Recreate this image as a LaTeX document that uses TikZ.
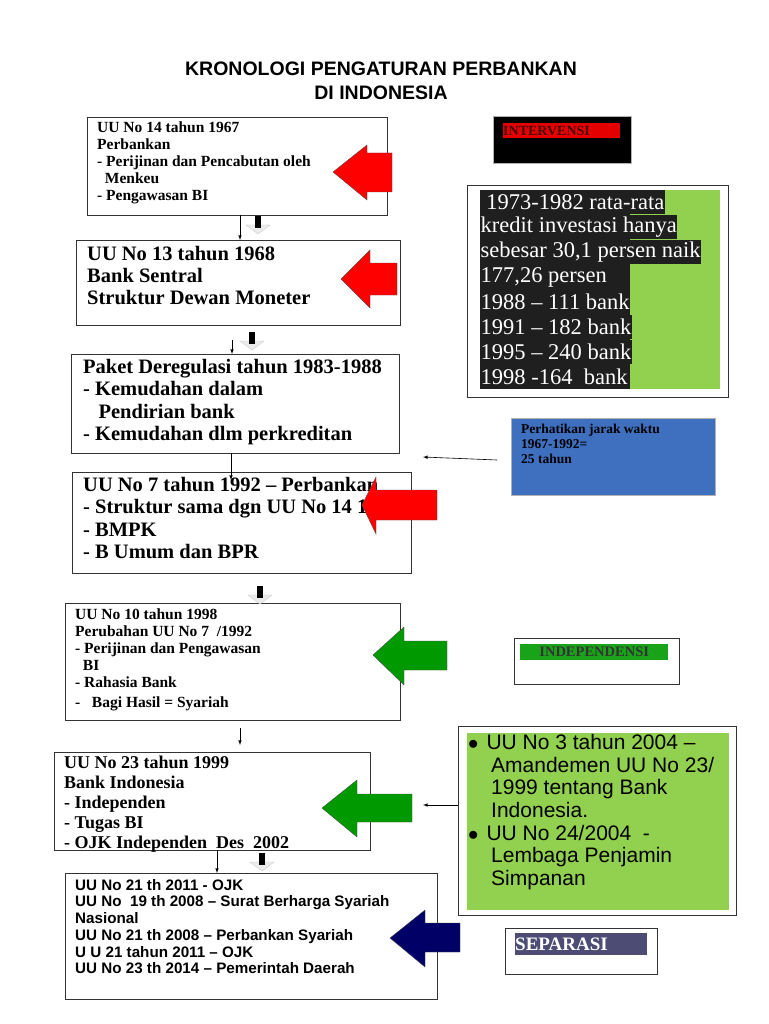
\documentclass[tikz,border=0pt]{standalone}
\usepackage{fontspec}
\setmainfont{Liberation Serif}
\newfontfamily\sansf[Ligatures=TeX]{Liberation Sans}
\definecolor{xgreen}{HTML}{92D050}
\definecolor{xblue}{HTML}{3F6FBF}
\begin{document}
\begin{tikzpicture}[x=1pt,y=-1pt,
  box/.style={draw=black!80,line width=0.8pt,anchor=north west,inner sep=0},
  txt/.style={anchor=north west,align=left,inner sep=0,font=\bfseries},
  thin/.style={-latex,line width=0.6pt},
  stat/.style={anchor=north west,fill=black!88,text=white,inner sep=0.5pt,minimum height=24pt,font=\fontsize{22.5}{24}\selectfont}]
\useasboundingbox (0,0) rectangle (768,1024);
\fill[white] (0,0) rectangle (768,1024);
\node[anchor=north,align=center,font=\sansf\bfseries\fontsize{19.5}{24}\selectfont] (title) at (381,58) {KRONOLOGI PENGATURAN PERBANKAN\\DI INDONESIA};
% main boxes
\node[box,minimum width=300pt,minimum height=98pt] (b1) at (87,117) {};
\node[txt,font=\bfseries\fontsize{15.5}{17}\selectfont] at (97,122) {UU No 14 tahun 1967\\Perbankan\\- Perijinan dan Pencabutan oleh\\\ \ Menkeu\\- Pengawasan BI};
\node[box,minimum width=324pt,minimum height=85pt] (b2) at (76,240) {};
\node[txt,font=\bfseries\fontsize{20.5}{22}\selectfont] at (87,246) {UU No 13 tahun 1968\\Bank Sentral\\Struktur Dewan Moneter};
\node[box,minimum width=328pt,minimum height=99pt] (b3) at (71,354) {};
\node[txt,font=\bfseries\fontsize{20.5}{22.5}\selectfont] at (83,359) {Paket Deregulasi tahun 1983-1988\\- Kemudahan dalam\\\ \ \ Pendirian bank\\- Kemudahan dlm perkreditan};
\node[box,minimum width=339pt,minimum height=101pt] (b4) at (72,472) {};
\node[txt,font=\bfseries\fontsize{20.5}{22.5}\selectfont] at (83,477) {UU No 7 tahun 1992 – Perbankan\\- Struktur sama dgn UU No 14 1967\\- BMPK\\- B Umum dan BPR};
\node[box,minimum width=335pt,minimum height=117pt] (b5) at (65,603) {};
\node[txt,font=\bfseries\fontsize{15.5}{17}\selectfont] at (75,609) {UU No 10 tahun 1998\\Perubahan UU No 7 \ /1992\\- Perijinan dan Pengawasan\\\ \ BI\\- Rahasia Bank\\[3pt]-\ \ \ Bagi Hasil = Syariah};
\node[box,minimum width=316pt,minimum height=98pt] (b6) at (54,752) {};
\node[txt,font=\bfseries\fontsize{18}{20}\selectfont] at (64,756) {UU No 23 tahun 1999\\Bank Indonesia\\- Independen\\- Tugas BI\\- OJK Independen \ Des \ 2002};
\node[box,minimum width=372pt,minimum height=126pt] (b7) at (65,873) {};
\node[txt,font=\sansf\bfseries\fontsize{15.2}{16.7}\selectfont] at (75,879) {UU No 21 th 2011 - OJK\\UU No \ 19 th 2008 -- Surat Berharga Syariah\\Nasional\\UU No 21 th 2008 -- Perbankan Syariah\\U U 21 tahun 2011 -- OJK\\UU No 23 th 2014 -- Pemerintah Daerah};
% right side
\node[box,fill=black,draw=gray!60,line width=1pt,minimum width=138pt,minimum height=47pt] (iv) at (493,116) {};
\node[anchor=north west,fill=red!90!black,inner sep=0,minimum width=117pt,minimum height=15pt,text=black!70!red,font=\bfseries\fontsize{14}{14}\selectfont,text width=117pt] (ivl) at (503,123) {INTERVENSI};
\node[box,minimum width=261pt,minimum height=212pt] (st) at (467,185) {};
\fill[xgreen] (480,190) rectangle (720,389);
\fill[black!88] (480,190) rectangle (630,389);
\node[stat] at (480,190) {\ 1973-1982 rata-rata };
\node[stat] at (480,215) {kredit investasi hanya };
\node[stat] at (480,240) {sebesar 30,1 persen naik };
\node[stat] at (480,265) {177,26 persen};
\node[stat] at (480,290) {1988 – 111 bank};
\node[stat] at (480,315) {1991 – 182 bank};
\node[stat] at (480,340) {1995 – 240 bank};
\node[stat] at (480,365) {1998 -164 \ bank};
\node[box,fill=xblue,draw=black!30,minimum width=204pt,minimum height=77pt] (ph) at (511,418) {};
\node[txt,font=\bfseries\fontsize{13.5}{15}\selectfont] at (521,424) {Perhatikan jarak waktu\\1967-1992=\\25 tahun};
\node[box,minimum width=165pt,minimum height=46pt] (ind) at (514,638) {};
\node[anchor=north west,fill=green!60!black!90,inner sep=0,minimum width=148pt,minimum height=16pt,font=\bfseries\fontsize{14.5}{14}\selectfont,text=black!80,text width=148pt,align=center] (indl) at (520,644) {INDEPENDENSI};
\node[box,minimum width=278pt,minimum height=189pt] (uu) at (458,726) {};
\fill[xgreen] (467,733) rectangle (729,910);
\node[txt,font=\sansf\fontsize{21}{22.7}\selectfont] at (468,734) {$\bullet$\hspace{8pt}UU No 3 tahun 2004 –\\\hspace{23pt}Amandemen UU No 23/\\\hspace{23pt}1999 tentang Bank\\\hspace{23pt}Indonesia.\\$\bullet$\hspace{8pt}UU No 24/2004 \ -\\\hspace{23pt}Lembaga Penjamin\\\hspace{23pt}Simpanan};
\node[box,minimum width=152pt,minimum height=46pt] (sep) at (505,928) {};
\node[anchor=north west,fill=black!60!blue!40!gray,inner sep=0,minimum width=132pt,minimum height=22pt,text=white,font=\bfseries\fontsize{19}{19}\selectfont,text width=132pt] (sepl) at (515,933) {SEPARASI};
% block arrows
\fill[red,draw=black!70,line width=0.4pt] (333,172)--(367,145)--(367,153)--(392,153)--(392,192)--(367,192)--(367,200)--cycle;
\fill[red,draw=black!70,line width=0.4pt] (341,279)--(370,250)--(370,263)--(397,263)--(397,295)--(370,295)--(370,308)--cycle;
\fill[red,draw=black!70,line width=0.4pt] (362,505)--(376,477)--(376,490)--(437,490)--(437,520)--(376,520)--(376,534)--cycle;
\fill[green!60!black,draw=black!70,line width=0.4pt] (373,655)--(404,627)--(404,641)--(447,641)--(447,670)--(404,670)--(404,685)--cycle;
\fill[green!60!black,draw=black!70,line width=0.4pt] (322,808)--(357,780)--(357,794)--(412,794)--(412,822)--(357,822)--(357,837)--cycle;
\fill[blue!40!black,draw=black!70,line width=0.4pt] (390,938)--(425,910)--(425,923)--(460,923)--(460,952)--(425,952)--(425,967)--cycle;
% small down block markers
\foreach \x/\y in {258/215,252/331,260/585,262/852}{
  \fill[gray!15,draw=gray!40] (\x-12,\y+10)--(\x+12,\y+10)--(\x,\y+19)--cycle;
  \fill[black] (\x-3,\y+1) rectangle (\x+3,\y+13);}
% connectors
\coordinate (a1) at (240,215); \coordinate (a2) at (240,240);
\draw[thin] (a1)--(a2);
\coordinate (c1) at (232,340); \draw[thin] (c1)--(232,354);
\draw[thin] (231,453)--(231,480);
\coordinate (d1) at (240,728); \draw[thin] (d1)--(240,745);
\draw[thin] (217,850)--(217,873);
\coordinate (p1) at (497,460); \coordinate (p2) at (423,457);
\draw[thin] (p1)--(p2);
\coordinate (u1) at (458,805); \coordinate (u2) at (423,805);
\draw[thin] (u1)--(u2);
\end{tikzpicture}
\end{document}
